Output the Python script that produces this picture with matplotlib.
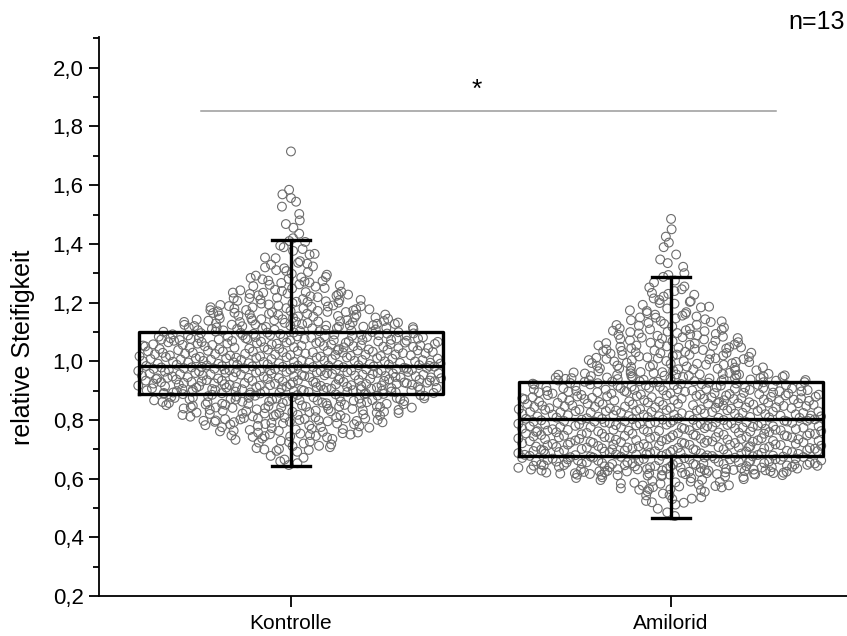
import numpy as np
import matplotlib
import matplotlib.pyplot as plt
from matplotlib.ticker import FuncFormatter, MultipleLocator

matplotlib.use("agg")

plt.rcParams["font.family"] = ["Liberation Sans", "DejaVu Sans"]

# --- data ------------------------------------------------------------------
categories = ["Kontrolle", "Amilorid"]

# box statistics (q1, median, q3, whisker low, whisker high)
kontrolle_box = dict(q1=0.89, med=0.984, q3=1.10, whislo=0.643, whishi=1.413)
amilorid_box = dict(q1=0.677, med=0.802, q3=0.930, whislo=0.465, whishi=1.288)

# point counts per 0.05 wide bin, bins start at the given value
kontrolle_bin_start = [0.64, 0.69, 0.74, 0.79, 0.84, 0.89, 0.94, 0.99, 1.04, 1.09, 1.14,
                       1.19, 1.24, 1.29, 1.34, 1.39, 1.44, 1.49, 1.54, 1.59, 1.64, 1.69]
kontrolle_counts = [6, 18, 34, 52, 70, 95, 94, 80, 78, 62, 44,
                    30, 19, 12, 8, 5, 3, 2, 4, 0, 0, 1]

amilorid_bin_start = [0.46, 0.51, 0.56, 0.61, 0.66, 0.71, 0.76, 0.81, 0.86, 0.91, 0.96,
                      1.01, 1.06, 1.11, 1.16, 1.21, 1.26, 1.31, 1.36, 1.41, 1.46]
amilorid_counts = [3, 12, 28, 92, 84, 80, 80, 78, 76, 68, 40,
                   36, 28, 20, 14, 9, 5, 3, 3, 2, 1]

sig_level = 1.852
n_label = "n=13"

BIN = 0.05


def halton(i, base):
    f, r = 1.0, 0.0
    while i > 0:
        f /= base
        r += f * (i % base)
        i //= base
    return r


def swarm(bin_start, counts, pos):
    """spread the binned points like the density scatter in the original"""
    starts = np.array(bin_start)
    cnt = np.array(counts, dtype=float)
    centres = starts + BIN / 2
    half = 0.405 * np.minimum(cnt / (0.85 * cnt.max()), 1.0) ** 0.8
    xs, ys = [], []
    for i, (lo, c) in enumerate(zip(starts, counts)):
        if c == 0:
            continue
        if c == 1:
            fy, fx = np.array([0.5]), np.array([0.5])
        else:
            idx = range(1 + 11 * i, 1 + 11 * i + c)
            fy = np.array([halton(j, 2) for j in idx])
            fx = np.array([halton(j, 3) for j in idx])
        y = lo + fy * BIN
        h = np.maximum(np.interp(y, centres, half), 0.012)
        xs.append(pos + (fx * 2 - 1) * h)
        ys.append(y)
    return np.concatenate(xs), np.concatenate(ys)


fig = plt.figure(figsize=(8.47, 6.36), dpi=100)
ax = fig.add_axes([99 / 847, 1 - 596 / 636, (863 - 99) / 847, (596 - 37) / 636])

for pos, (bs, cn) in enumerate([(kontrolle_bin_start, kontrolle_counts),
                                (amilorid_bin_start, amilorid_counts)]):
    x, y = swarm(bs, cn, pos)
    ax.scatter(x, y, s=40, facecolors="none", edgecolors="#6c6c6c",
               linewidths=0.8, zorder=2)

stats = []
for name, b in zip(categories, [kontrolle_box, amilorid_box]):
    stats.append(dict(b, label=name, fliers=[]))

line = dict(color="black", linewidth=2.4)
ax.bxp(stats, positions=[0, 1], widths=0.8, capwidths=0.1, showfliers=False,
       boxprops=line, whiskerprops=line, capprops=line, medianprops=line,
       manage_ticks=False, zorder=3)

# significance bar
ax.plot([-0.237, 1.276], [sig_level, sig_level], color="#9a9a9a", linewidth=1.1, zorder=1)
ax.text(0.49, 1.925, "*", ha="center", va="center", fontsize=19)

ax.set_xlim(-0.505, 1.505)
ax.set_ylim(0.2, 2.105)

ax.set_xticks([0, 1])
ax.set_xticklabels(categories, fontsize=15)
ax.set_yticks(np.arange(0.2, 2.01, 0.2))
ax.yaxis.set_minor_locator(MultipleLocator(0.1))
ax.yaxis.set_major_formatter(FuncFormatter(lambda v, p: f"{v:.1f}".replace(".", ",")))
ax.tick_params(axis="y", labelsize=16, length=7, width=1.3, pad=4)
ax.tick_params(axis="y", which="minor", length=4, width=1.3)
ax.tick_params(axis="x", length=8, width=1.3, pad=5)

for side in ["top", "right"]:
    ax.spines[side].set_visible(False)
for side in ["left", "bottom"]:
    ax.spines[side].set_linewidth(1.3)

ax.set_ylabel("relative Steifigkeit", fontsize=18)
ax.yaxis.set_label_coords(-0.084, 0.4445)

fig.text(845 / 847, 1 - 22 / 636, n_label, ha="right", va="center", fontsize=18)

fig.savefig("out.png", dpi=100)
